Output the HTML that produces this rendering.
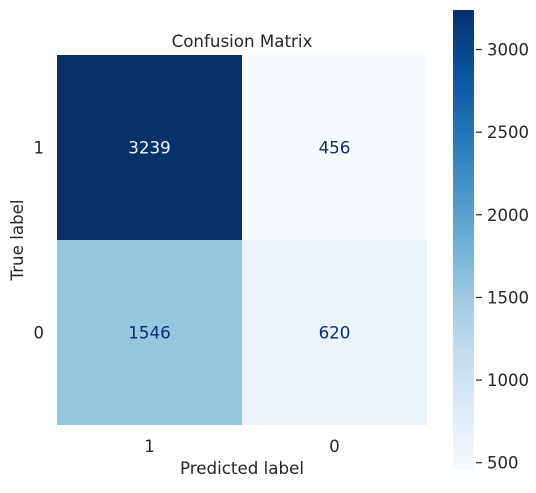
<!DOCTYPE html>
<html><head><meta charset="utf-8"><style>
html,body{margin:0;padding:0;background:#fff;}
svg text{font-family:"DejaVu Sans","Liberation Sans",sans-serif;}
</style></head><body>
<svg id="c" width="536" height="488" xmlns="http://www.w3.org/2000/svg">
<defs><linearGradient id="cb" x1="0" y1="1" x2="0" y2="0">
<stop offset="0" stop-color="#f7fbff"/><stop offset="0.125" stop-color="#deebf7"/><stop offset="0.25" stop-color="#c6dbef"/><stop offset="0.375" stop-color="#9ecae1"/><stop offset="0.5" stop-color="#6baed6"/><stop offset="0.625" stop-color="#4292c6"/><stop offset="0.75" stop-color="#2171b5"/><stop offset="0.875" stop-color="#08519c"/><stop offset="1" stop-color="#08306b"/>
</linearGradient></defs>
<text x="242" y="47" text-anchor="middle" font-size="16.7" fill="#262626">Confusion Matrix</text>
<text x="242" y="474" text-anchor="middle" font-size="16.7" fill="#262626">Predicted label</text>
<text transform="translate(23,240) rotate(-90)" text-anchor="middle" font-size="16.7" fill="#262626">True label</text>
<g id="cells"></g>
<rect x="453" y="10" width="21" height="460" fill="url(#cb)"/>
<g id="cbt"></g>
</svg>
<script>
const rowLabels = ['1','0'];
const colLabels = ['1','0'];
const values = [[3239,456],[1546,620]];
const cbTicks = [500,1000,1500,2000,2500,3000];

const NS='http://www.w3.org/2000/svg';
const svg=document.getElementById('c');
const cells=document.getElementById('cells');
const cbt=document.getElementById('cbt');
const stops=['#f7fbff','#deebf7','#c6dbef','#9ecae1','#6baed6','#4292c6','#2171b5','#08519c','#08306b'];
function hex(h){return [1,3,5].map(i=>parseInt(h.substr(i,2),16));}
function cmap(t){t=Math.max(0,Math.min(1,t));const p=t*(stops.length-1);const i=Math.min(stops.length-2,Math.floor(p));const f=p-i;const a=hex(stops[i]),b=hex(stops[i+1]);return 'rgb('+a.map((v,k)=>Math.round(v+(b[k]-v)*f)).join(',')+')';}
const flat=values.flat();const vmin=Math.min(...flat),vmax=Math.max(...flat);
const X0=57,Y0=55,CW=185,CH=185;
function xPos(j){return X0+j*CW;}
function yPos(i){return Y0+i*CH;}
function cbY(v){return 470-(v-vmin)/(vmax-vmin)*460;}
function mk(tag,attrs,parent){const e=document.createElementNS(NS,tag);for(const k in attrs)e.setAttribute(k,attrs[k]);parent.appendChild(e);return e;}
values.forEach((row,i)=>row.forEach((v,j)=>{
  const t=(v-vmin)/(vmax-vmin);
  const r=mk('rect',{x:xPos(j),y:yPos(i),width:CW,height:CH,fill:cmap(t)},cells);
  
  
  const tx=mk('text',{x:xPos(j)+CW/2,y:yPos(i)+CH/2+6,'text-anchor':'middle','font-size':'16.7',fill:t>0.5?'#f7fbff':'#08306b'},cells);
  tx.textContent=v;
  
  
}));
rowLabels.forEach((l,i)=>{
  const t=mk('text',{x:44,y:yPos(i)+CH/2+6,'text-anchor':'end','font-size':'16.5','fill':'#262626'},svg);
  t.textContent=l;
  
  
});
colLabels.forEach((l,j)=>{
  const t=mk('text',{x:xPos(j)+CW/2,y:452,'text-anchor':'middle','font-size':'16.5',fill:'#262626'},svg);
  t.textContent=l;
  
  
});
cbTicks.forEach(v=>{
  const y=cbY(v);
  const ln=mk('line',{x1:476,x2:482,y1:y,y2:y,stroke:'#262626','stroke-width':1.2},cbt);
  
  
  const t=mk('text',{x:487,y:y+6,'font-size':'16.5',fill:'#262626'},cbt);
  t.textContent=v;
  
  
});
</script>
</body></html>
